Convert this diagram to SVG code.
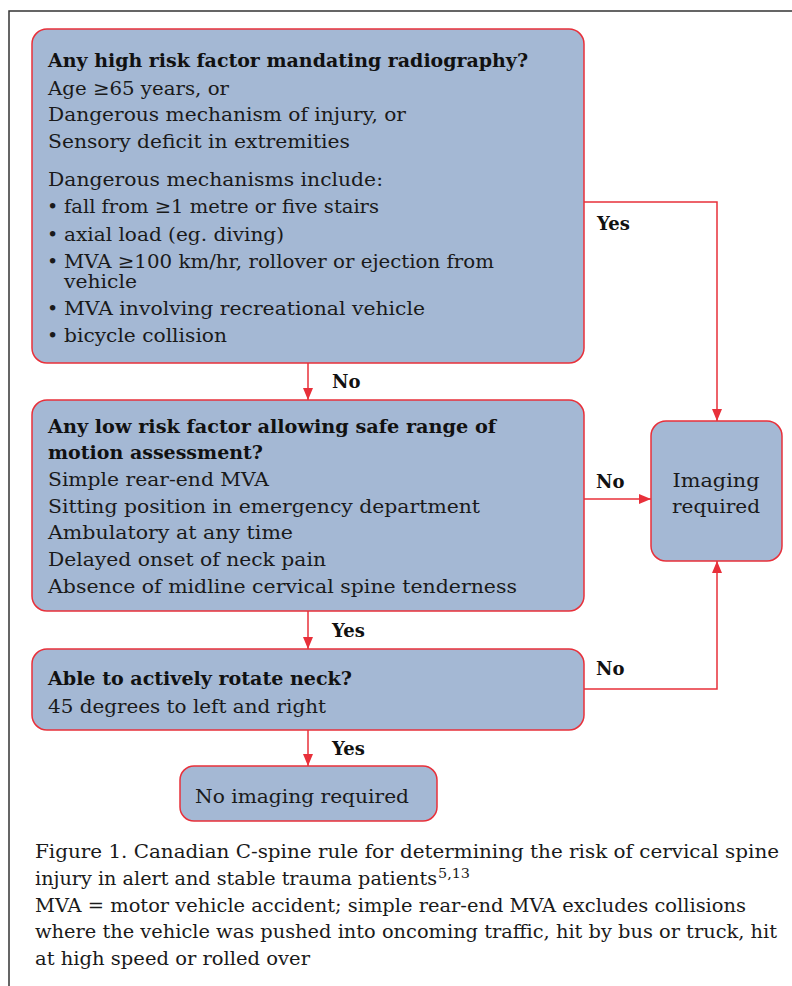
<svg xmlns="http://www.w3.org/2000/svg" width="792" height="986" viewBox="0 0 792 986">
<defs>
<marker id="arr" viewBox="0 0 12 10" refX="12" refY="5" markerWidth="12" markerHeight="10" markerUnits="userSpaceOnUse" orient="auto">
<path d="M0,0 L12,5 L0,10 z" fill="#e8303a"/>
</marker>
<style>
.box{fill:#a4b8d4;stroke:#e8303a;stroke-width:1.5}
.t{font-family:"DejaVu Serif","Liberation Serif",serif;font-size:19px;fill:#1a1a1a}
.b{font-family:"DejaVu Serif","Liberation Serif",serif;font-size:19px;font-weight:bold;fill:#111}
.lbl{font-family:"DejaVu Serif","Liberation Serif",serif;font-size:18px;font-weight:bold;fill:#111}
.cap{font-family:"DejaVu Serif","Liberation Serif",serif;font-size:19px;fill:#1a1a1a}
.sup{font-family:"DejaVu Serif","Liberation Serif",serif;font-size:12px;fill:#1a1a1a}
.con{fill:none;stroke:#e8303a;stroke-width:1.5;marker-end:url(#arr)}
.frame{fill:none;stroke:#333;stroke-width:1.5}
</style>
</defs>
<rect width="792" height="986" fill="#fff"/>
<path class="frame" d="M9,986 L9,11 L792,11"/>

<g id="connectors">
<path class="con" d="M584,202 L717,202 L717,421"/>
<path class="con" d="M308,363 L308,400"/>
<path class="con" d="M584,499 L651,499"/>
<path class="con" d="M308,611 L308,649"/>
<path class="con" d="M584,689 L717,689 L717,561"/>
<path class="con" d="M308,730 L308,766"/>
<text class="lbl" x="597" y="230">Yes</text>
<text class="lbl" x="332" y="388">No</text>
<text class="lbl" x="596" y="488">No</text>
<text class="lbl" x="332" y="637">Yes</text>
<text class="lbl" x="596" y="675">No</text>
<text class="lbl" x="332" y="755">Yes</text>
</g>

<g id="high-risk">
<rect class="box" x="32" y="29" width="552" height="334" rx="15"/>
<text class="b" x="48" y="67" textLength="480" lengthAdjust="spacingAndGlyphs">Any high risk factor mandating radiography?</text>
<text class="t" x="48" y="95" textLength="181" lengthAdjust="spacingAndGlyphs">Age ≥65 years, or</text>
<text class="t" x="48" y="121" textLength="358" lengthAdjust="spacingAndGlyphs">Dangerous mechanism of injury, or</text>
<text class="t" x="48" y="148" textLength="302" lengthAdjust="spacingAndGlyphs">Sensory deficit in extremities</text>
<text class="t" x="48" y="186" textLength="335" lengthAdjust="spacingAndGlyphs">Dangerous mechanisms include:</text>
<text class="t" x="47" y="213">•</text>
<text class="t" x="64" y="213" textLength="315" lengthAdjust="spacingAndGlyphs">fall from ≥1 metre or five stairs</text>
<text class="t" x="47" y="241">•</text>
<text class="t" x="64" y="241" textLength="220" lengthAdjust="spacingAndGlyphs">axial load (eg. diving)</text>
<text class="t" x="47" y="268">•</text>
<text class="t" x="64" y="268" textLength="430" lengthAdjust="spacingAndGlyphs">MVA ≥100 km/hr, rollover or ejection from</text>
<text class="t" x="64" y="288" textLength="73" lengthAdjust="spacingAndGlyphs">vehicle</text>
<text class="t" x="47" y="315">•</text>
<text class="t" x="64" y="315" textLength="361" lengthAdjust="spacingAndGlyphs">MVA involving recreational vehicle</text>
<text class="t" x="47" y="342">•</text>
<text class="t" x="64" y="342" textLength="163" lengthAdjust="spacingAndGlyphs">bicycle collision</text>
</g>

<g id="low-risk">
<rect class="box" x="32" y="400" width="552" height="211" rx="15"/>
<text class="b" x="48" y="433" textLength="448" lengthAdjust="spacingAndGlyphs">Any low risk factor allowing safe range of</text>
<text class="b" x="48" y="459" textLength="215" lengthAdjust="spacingAndGlyphs">motion assessment?</text>
<text class="t" x="48" y="486" textLength="221" lengthAdjust="spacingAndGlyphs">Simple rear-end MVA</text>
<text class="t" x="48" y="513" textLength="432" lengthAdjust="spacingAndGlyphs">Sitting position in emergency department</text>
<text class="t" x="48" y="539" textLength="245" lengthAdjust="spacingAndGlyphs">Ambulatory at any time</text>
<text class="t" x="48" y="566" textLength="278" lengthAdjust="spacingAndGlyphs">Delayed onset of neck pain</text>
<text class="t" x="48" y="593" textLength="469" lengthAdjust="spacingAndGlyphs">Absence of midline cervical spine tenderness</text>
</g>

<g id="rotate">
<rect class="box" x="32" y="649" width="552" height="81" rx="15"/>
<text class="b" x="48" y="685" textLength="304" lengthAdjust="spacingAndGlyphs">Able to actively rotate neck?</text>
<text class="t" x="48" y="713" textLength="278" lengthAdjust="spacingAndGlyphs">45 degrees to left and right</text>
</g>

<g id="no-imaging">
<rect class="box" x="180" y="766" width="257" height="55" rx="14"/>
<text class="t" x="195" y="803" textLength="214" lengthAdjust="spacingAndGlyphs">No imaging required</text>
</g>

<g id="imaging">
<rect class="box" x="651" y="421" width="131" height="140" rx="15"/>
<text class="t" x="716" y="487" text-anchor="middle" textLength="87" lengthAdjust="spacingAndGlyphs">Imaging</text>
<text class="t" x="716" y="513" text-anchor="middle" textLength="88" lengthAdjust="spacingAndGlyphs">required</text>
</g>

<g id="caption">
<text class="cap" x="35" y="858" textLength="744" lengthAdjust="spacingAndGlyphs">Figure 1. Canadian C-spine rule for determining the risk of cervical spine</text>
<text class="cap" x="35" y="885" textLength="402" lengthAdjust="spacingAndGlyphs">injury in alert and stable trauma patients</text>
<text class="sup" x="438" y="878" textLength="32" lengthAdjust="spacingAndGlyphs">5,13</text>
<text class="cap" x="35" y="912" textLength="711" lengthAdjust="spacingAndGlyphs">MVA = motor vehicle accident; simple rear-end MVA excludes collisions</text>
<text class="cap" x="35" y="938" textLength="742" lengthAdjust="spacingAndGlyphs">where the vehicle was pushed into oncoming traffic, hit by bus or truck, hit</text>
<text class="cap" x="35" y="965" textLength="275" lengthAdjust="spacingAndGlyphs">at high speed or rolled over</text>
</g>
</svg>
